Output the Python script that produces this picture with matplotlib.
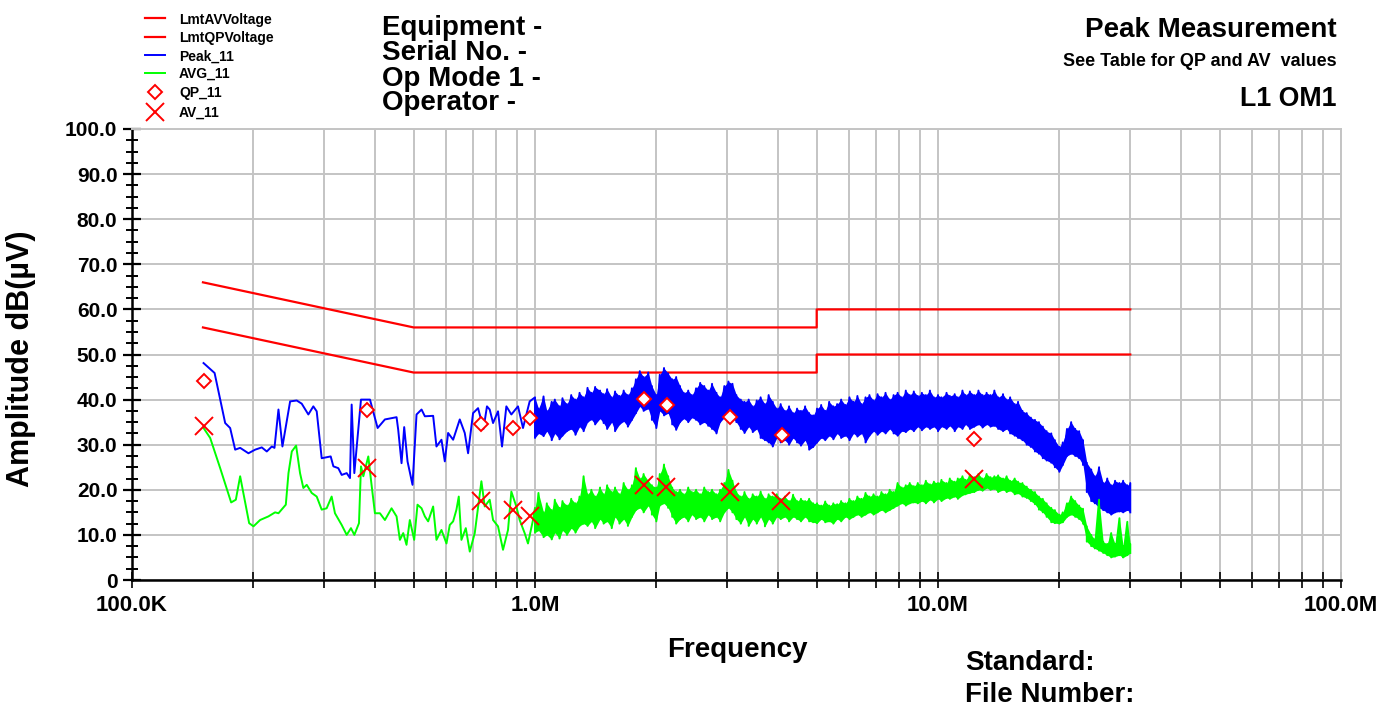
import numpy as np
import matplotlib
matplotlib.use("Agg")
import matplotlib.pyplot as plt
from matplotlib.ticker import FixedLocator, FixedFormatter, NullFormatter
from matplotlib.lines import Line2D

plt.rcParams['font.family'] = ['Liberation Sans', 'DejaVu Sans']
plt.rcParams['font.weight'] = 'bold'

# ---------------- data ----------------
# limit lines (Hz, dBuV)
lim_freq_hz = [150e3, 500e3, 5e6, 5e6, 30e6]
lim_qp = [66, 56, 56, 60, 60]
lim_av = [56, 46, 46, 50, 50]

# low-frequency part of the Peak trace (kHz)
peak_sparse_khz = [150.5, 160.3, 170.3, 175.2, 180.3, 185.5, 194.5, 202.1, 209.9, 216.0,
                   222.3, 225.7, 230.9, 236.2, 246.8, 256.3, 263.7, 273.9, 281.8, 287.3,
                   295.6, 311.2, 316.0, 325.0, 331.4, 341.0, 347.5, 350.8, 356.2, 370.0,
                   389.5, 406.9, 424.2, 453.4, 457.7, 466.5, 473.6, 482.7, 496.7, 508.2,
                   523.0, 533.0, 558.8, 569.5, 586.0, 597.3, 608.7, 626.4, 650.6, 669.4,
                   682.3, 702.0, 722.3, 745.0, 760.0, 772.0, 786.9, 809.6, 828.3, 849.0,
                   873.6, 907.4, 933.7, 970.0]
peak_sparse_val = [48.1, 45.9, 34.8, 33.7, 28.9, 29.3, 28.1, 28.9, 29.4, 28.5,
                   29.6, 29.3, 37.8, 29.6, 39.6, 39.8, 39.1, 36.7, 38.5, 37.4,
                   27.0, 27.4, 25.2, 24.8, 23.3, 23.7, 22.6, 38.9, 23.7, 40.0,
                   40.0, 33.7, 35.6, 36.1, 33.3, 25.9, 33.9, 26.3, 21.1, 36.7,
                   37.8, 36.3, 36.4, 29.6, 31.1, 26.3, 32.6, 31.1, 35.6, 32.6,
                   28.1, 37.0, 38.1, 33.5, 38.5, 37.8, 34.8, 37.4, 29.6, 38.5,
                   36.7, 38.5, 33.7, 39.6]

# low-frequency part of the AVG trace (kHz)
avg_sparse_khz = [150.5, 156.3, 165.5, 176.2, 181.0, 185.5, 195.3, 200.2, 207.9, 218.0,
                  226.5, 230.9, 240.8, 244.5, 249.2, 255.4, 261.2, 266.2, 271.4, 279.2,
                  287.3, 295.6, 304.1, 312.9, 318.9, 331.4, 341.0, 349.4, 356.2, 365.8,
                  370.0, 375.0, 385.8, 391.7, 400.7, 412.3, 424.2, 440.6, 453.4, 462.1,
                  471.0, 479.9, 489.1, 501.4, 511.0, 523.0, 533.0, 543.1, 558.8, 569.5,
                  586.0, 603.0, 614.5, 626.4, 638.4, 646.9, 656.8, 673.4, 688.9, 708.8,
                  736.2, 750.3, 772.0, 786.9, 809.6, 833.0, 857.1, 873.6, 898.9, 916.1,
                  942.6, 960.7, 988.6]
avg_sparse_val = [33.7, 31.5, 24.8, 17.2, 17.8, 23.0, 12.6, 11.9, 13.3, 14.1,
                  15.0, 14.8, 16.7, 23.7, 28.5, 29.8, 23.7, 20.4, 21.1, 19.3,
                  18.5, 15.6, 15.9, 18.5, 14.8, 12.2, 10.0, 11.5, 10.0, 12.6,
                  25.2, 23.0, 27.4, 22.2, 14.8, 14.8, 13.3, 15.9, 14.1, 8.9,
                  10.4, 7.8, 13.3, 8.9, 16.7, 15.9, 14.1, 13.0, 16.3, 8.9,
                  11.1, 8.1, 12.2, 13.0, 15.6, 18.5, 8.9, 11.5, 6.3, 10.4,
                  21.9, 16.3, 17.8, 13.3, 11.9, 6.7, 11.1, 19.6, 16.3, 13.3,
                  10.4, 8.1, 13.3]

# dense sweep 1 - 30 MHz : upper / lower excursions at each step
sweep_mhz = [1.00, 1.02, 1.05, 1.07, 1.10, 1.12, 1.15, 1.17, 1.20, 1.23,
             1.26, 1.29, 1.32, 1.35, 1.38, 1.41, 1.45, 1.48, 1.51, 1.55,
             1.58, 1.62, 1.66, 1.70, 1.74, 1.78, 1.82, 1.86, 1.91, 1.95,
             2.00, 2.04, 2.09, 2.14, 2.19, 2.24, 2.29, 2.34, 2.40, 2.45,
             2.51, 2.57, 2.63, 2.69, 2.75, 2.82, 2.88, 2.95, 3.02, 3.09,
             3.16, 3.24, 3.31, 3.39, 3.47, 3.55, 3.63, 3.72, 3.80, 3.89,
             3.98, 4.07, 4.17, 4.27, 4.37, 4.47, 4.57, 4.68, 4.79, 4.90,
             5.01, 5.13, 5.25, 5.37, 5.50, 5.62, 5.75, 5.89, 6.03, 6.17,
             6.31, 6.46, 6.61, 6.76, 6.92, 7.08, 7.24, 7.41, 7.59, 7.76,
             7.94, 8.13, 8.32, 8.51, 8.71, 8.91, 9.12, 9.33, 9.55, 9.77,
             10.0, 10.2, 10.5, 10.7, 11.0, 11.2, 11.5, 11.7, 12.0, 12.3,
             12.6, 12.9, 13.2, 13.5, 13.8, 14.1, 14.5, 14.8, 15.1, 15.5,
             15.8, 16.2, 16.6, 17.0, 17.4, 17.8, 18.2, 18.6, 19.1, 19.5,
             20.0, 20.4, 20.9, 21.4, 21.9, 22.4, 22.9, 23.4, 24.0, 24.5,
             25.1, 25.7, 26.3, 26.9, 27.5, 28.2, 28.8, 29.5, 30.0]
peak_hi = [40.5, 38.0, 40.7, 37.5, 39.5, 40.0, 38.5, 40.3, 39.0, 41.0,
           40.0, 41.5, 40.5, 42.6, 41.5, 42.8, 42.0, 41.2, 42.3, 40.5,
           41.8, 40.8, 42.0, 41.0, 42.5, 44.5, 46.3, 45.0, 46.0, 43.0,
           41.0, 45.5, 47.0, 45.8, 44.5, 45.0, 43.0, 41.5, 42.0, 41.0,
           42.5, 43.7, 43.0, 42.0, 43.5, 41.5, 40.5, 43.0, 44.0, 43.5,
           41.0, 40.0, 39.5, 40.0, 38.5, 39.8, 40.5, 39.0, 41.0, 39.5,
           38.0, 39.0, 37.5, 38.5, 37.0, 38.0, 37.5, 38.5, 37.0, 36.5,
           38.0, 38.8, 37.5, 39.5, 38.5, 39.0, 40.0, 38.8, 40.5, 39.5,
           40.8, 39.0, 40.5, 41.0, 39.8, 41.2, 40.5, 41.5, 40.0, 41.0,
           41.5, 40.5, 42.0, 41.0, 41.8, 40.8, 41.5, 41.0, 42.0, 40.5,
           41.0, 40.5, 41.5, 40.8, 41.2, 40.5, 42.0, 41.0, 41.8, 41.0,
           42.0, 41.0, 41.5, 41.0, 42.0, 40.5, 41.2, 40.0, 40.5, 39.0,
           39.5, 37.5, 37.0, 36.0, 35.5, 35.0, 34.0, 33.0, 32.5, 31.0,
           29.5, 30.5, 33.5, 35.0, 33.5, 33.0, 31.0, 26.0, 24.5, 23.0,
           25.0, 21.5, 22.5, 21.0, 22.0, 21.5, 22.0, 21.0, 21.5]
peak_lo = [31.5, 32.5, 31.9, 33.0, 31.0, 32.5, 31.2, 32.0, 33.0, 33.5,
           32.2, 34.0, 33.0, 35.0, 35.6, 34.5, 35.8, 34.8, 33.5, 35.0,
           33.0, 34.5, 35.2, 34.0, 35.5, 37.0, 38.5, 37.5, 38.0, 35.5,
           33.7, 37.5, 36.5, 37.0, 34.5, 33.3, 35.0, 35.8, 35.0, 36.0,
           35.5, 34.5, 35.0, 34.2, 33.5, 32.5, 35.0, 36.0, 37.0, 36.0,
           35.0, 33.5, 32.6, 34.0, 32.8, 33.5, 31.5, 31.0, 30.5, 29.6,
           31.5, 30.5, 31.0, 30.0, 31.5, 30.5, 29.8, 31.0, 28.9, 29.5,
           30.5, 31.5, 31.0, 32.0, 31.2, 32.5, 31.5, 32.0, 31.0, 32.5,
           31.8, 32.5, 30.5, 32.0, 33.0, 32.2, 33.0, 32.5, 33.5, 32.5,
           32.0, 33.0, 32.8, 33.5, 33.0, 34.0, 33.2, 34.0, 33.5, 34.0,
           33.0, 34.0, 33.5, 34.2, 33.0, 34.0, 33.5, 34.5, 33.5, 34.0,
           34.5, 33.8, 34.5, 34.0, 34.2, 33.5, 33.0, 33.5, 32.5, 32.0,
           31.5, 31.0, 30.0, 29.5, 28.5, 28.0, 27.0, 26.5, 26.0, 25.0,
           24.0, 25.5, 27.5, 28.0, 27.5, 27.0, 25.5, 19.5, 17.5, 17.0,
           16.0, 15.5, 15.0, 14.5, 15.0, 15.2, 15.0, 15.5, 15.0]
avg_hi = [16.0, 19.3, 15.0, 17.0, 15.5, 17.8, 16.0, 17.5, 16.5, 18.0,
          17.0, 18.5, 23.0, 19.0, 20.0, 18.5, 20.5, 19.0, 21.0, 19.5,
          20.5, 19.0, 21.5, 20.0, 21.0, 24.8, 22.5, 23.5, 22.0, 21.0,
          20.5, 23.5, 25.6, 23.0, 20.5, 19.5, 20.0, 19.0, 20.5, 19.5,
          20.0, 19.0, 20.5, 19.5, 20.0, 19.0, 20.0, 21.5, 24.4, 22.0,
          19.5, 18.5, 19.5, 18.0, 19.0, 18.5, 19.6, 18.0, 19.0, 18.5,
          19.0, 18.0, 18.5, 17.5, 18.9, 17.5, 18.0, 17.5, 18.0, 17.0,
          17.0, 16.5, 17.4, 16.5, 17.0, 16.8, 17.5, 17.0, 18.0, 17.5,
          18.5, 18.0, 19.3, 18.5, 19.0, 18.5, 19.5, 19.0, 20.0, 19.5,
          21.5, 20.5, 21.0, 21.5, 20.8, 21.5, 21.0, 22.0, 21.2, 21.8,
          21.5, 22.2, 21.5, 22.5, 21.8, 22.5, 23.0, 22.2, 23.3, 22.8,
          23.5, 22.5, 23.5, 22.8, 23.0, 23.2, 22.5, 23.0, 22.0, 22.5,
          21.8, 21.5, 20.7, 20.0, 19.5, 18.5, 18.0, 17.0, 16.0, 15.5,
          14.5, 15.0, 17.0, 18.5, 17.5, 16.5, 15.8, 11.9, 10.0, 9.0,
          17.8, 8.5, 8.0, 10.4, 8.0, 13.7, 7.5, 12.9, 8.0]
avg_lo = [10.5, 11.0, 9.5, 10.0, 9.0, 10.5, 9.2, 11.0, 10.0, 11.5,
          10.5, 12.0, 12.5, 12.0, 13.0, 11.5, 13.5, 12.5, 13.0, 11.5,
          14.0, 12.5, 13.5, 12.0, 14.0, 15.5, 16.0, 15.0, 16.5, 14.5,
          13.0, 16.5, 17.0, 16.0, 14.0, 12.5, 13.5, 14.0, 13.0, 14.5,
          13.5, 14.0, 13.0, 14.5, 13.5, 14.0, 13.0, 15.0, 16.0, 15.0,
          13.5, 12.5, 14.0, 12.0, 13.5, 12.5, 14.0, 11.9, 13.5, 12.5,
          14.0, 13.5, 14.0, 13.0, 14.0, 13.5, 13.0, 14.0, 13.0, 12.8,
          12.6, 13.5, 12.8, 13.0, 12.5, 13.5, 13.0, 14.0, 13.5, 14.0,
          14.5, 14.0, 14.5, 15.0, 14.5, 15.0, 15.5, 15.0, 15.5, 16.0,
          16.5, 17.0, 16.5, 17.0, 17.2, 17.0, 17.5, 17.0, 17.8, 17.2,
          18.0, 17.5, 18.2, 18.0, 18.5, 18.0, 18.8, 19.0, 19.3, 19.5,
          20.0, 19.8, 20.4, 20.0, 20.2, 19.5, 20.0, 19.5, 19.8, 19.0,
          19.2, 18.5, 18.2, 17.5, 16.8, 15.6, 15.0, 14.0, 12.8, 12.6,
          12.5, 12.8, 14.0, 14.5, 14.0, 13.5, 12.5, 8.5, 7.5, 7.0,
          6.5, 6.0, 5.5, 5.0, 5.2, 5.5, 5.0, 5.5, 6.0]

# quasi-peak / average measurements (MHz, dBuV)
qp_mhz = [0.1505, 0.384, 0.733, 0.880, 0.973, 1.86, 2.12, 3.04, 4.09, 12.3]
qp_val = [44.2, 37.6, 34.6, 33.7, 35.9, 40.1, 38.9, 36.2, 32.2, 31.3]
av_mhz = [0.1505, 0.384, 0.733, 0.880, 0.973, 1.86, 2.11, 3.04, 4.08, 12.3]
av_val = [34.1, 24.8, 17.6, 15.5, 14.1, 21.0, 20.6, 19.6, 17.5, 22.3]

# axis tick labels
ytick_vals = [0, 10, 20, 30, 40, 50, 60, 70, 80, 90, 100]
ytick_labels = ["0", "10.0", "20.0", "30.0", "40.0", "50.0", "60.0", "70.0", "80.0", "90.0", "100.0"]
xtick_vals = [1e5, 1e6, 1e7, 1e8]
xtick_labels = ["100.0K", "1.0M", "10.0M", "100.0M"]

# ---------------- build traces ----------------
dense_f = np.array(sweep_mhz) * 1e6


def trace(sparse_khz, sparse_val, hi, lo):
    f_dense = np.repeat(dense_f, 2)
    v_dense = np.empty(2 * len(hi))
    v_dense[0::2] = hi
    v_dense[1::2] = lo
    f = np.concatenate([np.array(sparse_khz) * 1e3, f_dense])
    v = np.concatenate([np.array(sparse_val), v_dense])
    return f, v


peak_f, peak_v = trace(peak_sparse_khz, peak_sparse_val, peak_hi, peak_lo)
avg_f, avg_v = trace(avg_sparse_khz, avg_sparse_val, avg_hi, avg_lo)

# ---------------- figure ----------------
W, H = 1380, 709
fig = plt.figure(figsize=(W / 100, H / 100), dpi=100)
ax = fig.add_axes([132 / W, 1 - 580 / H, (1341 - 132) / W, (580 - 129) / H])

RED, BLUE, GREEN = '#ff0000', '#0000ff', '#00ff00'
lim_style = dict(color=RED, lw=1.6)
peak_style = dict(color=BLUE, lw=1.4)
avg_style = dict(color=GREEN, lw=1.4)
qp_style = dict(marker='D', ms=7, mfc='white', mec=RED, mew=1.4, ls='none')
av_style = dict(marker='x', ms=13, mec=RED, mew=1.4, ls='none')

ax.plot(lim_freq_hz, lim_qp, **lim_style, zorder=3)
ax.plot(lim_freq_hz, lim_av, **lim_style, zorder=3)
# dense part of the sweeps drawn as a noise band
ax.fill_between(dense_f, peak_lo, peak_hi, color=BLUE, lw=0, zorder=4)
ax.fill_between(dense_f, avg_lo, avg_hi, color=GREEN, lw=0, zorder=4)
ax.plot(peak_f, peak_v, **peak_style, zorder=4)
ax.plot(avg_f, avg_v, **avg_style, zorder=4)
ax.plot(np.array(qp_mhz) * 1e6, qp_val, **qp_style, zorder=6)
ax.plot(np.array(av_mhz) * 1e6, av_val, **av_style, zorder=6)

ax.set_xscale('log')
ax.set_xlim(1e5, 1e8)
ax.set_ylim(0, 100)

ax.yaxis.set_major_locator(FixedLocator(ytick_vals))
ax.yaxis.set_major_formatter(FixedFormatter(ytick_labels))
ax.yaxis.set_minor_locator(FixedLocator([v + d for v in ytick_vals[:-1] for d in (2.5, 5, 7.5)]))
ax.xaxis.set_major_locator(FixedLocator(xtick_vals))
ax.xaxis.set_major_formatter(FixedFormatter(xtick_labels))
ax.xaxis.set_minor_locator(FixedLocator([m * d for d in (1e5, 1e6, 1e7) for m in range(2, 10)]))
ax.xaxis.set_minor_formatter(NullFormatter())

GRID = '#c4c4c4'
ax.grid(which='major', axis='y', color=GRID, lw=1.4, zorder=0)
ax.grid(which='both', axis='x', color=GRID, lw=1.4, zorder=0)
ax.set_axisbelow(True)

for s in ('top', 'right'):
    ax.spines[s].set_color(GRID)
    ax.spines[s].set_linewidth(1.4)
for s in ('left', 'bottom'):
    ax.spines[s].set_color('black')
    ax.spines[s].set_linewidth(1.8)

ax.tick_params(axis='y', which='major', direction='inout', length=13, width=1.6,
               labelsize=15, pad=4)
ax.tick_params(axis='y', which='minor', direction='inout', length=8, width=1.4)
ax.tick_params(axis='x', which='both', direction='inout', length=12, width=1.2,
               labelsize=16, pad=5)
for lab in ax.get_xticklabels() + ax.get_yticklabels():
    lab.set_fontweight('bold')

# ---------------- texts ----------------
def fx(x):
    return x / W


def fy(y):
    return 1 - y / H


fig.text(fx(21), fy(359), 'Amplitude dB(µV)', rotation=90, ha='center', va='center',
         fontsize=22, fontweight='bold')
fig.text(fx(737), fy(657), 'Frequency', ha='center', va='baseline', fontsize=20, fontweight='bold')
fig.text(fx(965), fy(670), 'Standard:', ha='left', va='baseline', fontsize=20, fontweight='bold')
fig.text(fx(965), fy(702), 'File Number:', ha='left', va='baseline', fontsize=20, fontweight='bold')

for txt, yb in zip(['Equipment -', 'Serial No. -', 'Op Mode 1 -', 'Operator -'], [35, 60, 86, 110]):
    fig.text(fx(382), fy(yb), txt, ha='left', va='baseline', fontsize=20, fontweight='bold')

fig.text(fx(1337), fy(37), 'Peak Measurement', ha='right', va='baseline', fontsize=20, fontweight='bold')
fig.text(fx(1337), fy(66), 'See Table for QP and AV  values', ha='right', va='baseline',
         fontsize=13, fontweight='bold')
fig.text(fx(1337), fy(106), 'L1 OM1', ha='right', va='baseline', fontsize=19.3, fontweight='bold')

# ---------------- legend (manual, top left) ----------------
legend_labels = ['LmtAVVoltage', 'LmtQPVoltage', 'Peak_11', 'AVG_11', 'QP_11', 'AV_11']
legend_styles = [lim_style, lim_style, peak_style, avg_style, qp_style, av_style]
row_y = [18.3, 36.7, 55, 72.7, 91.7, 111.7]
for lab, st, yy in zip(legend_labels, legend_styles, row_y):
    st = dict(st)
    if 'marker' in st:
        st.pop('ls')
        fig.add_artist(Line2D([fx(154.5)], [fy(yy)], transform=fig.transFigure, ls='none', **st))
    else:
        fig.add_artist(Line2D([fx(145), fx(165)], [fy(yy), fy(yy)], transform=fig.transFigure, **st))
    fig.text(fx(179), fy(yy + 5.5), lab, ha='left', va='baseline', fontsize=10, fontweight='bold')

fig.savefig('out.png', dpi=100, facecolor='white')
